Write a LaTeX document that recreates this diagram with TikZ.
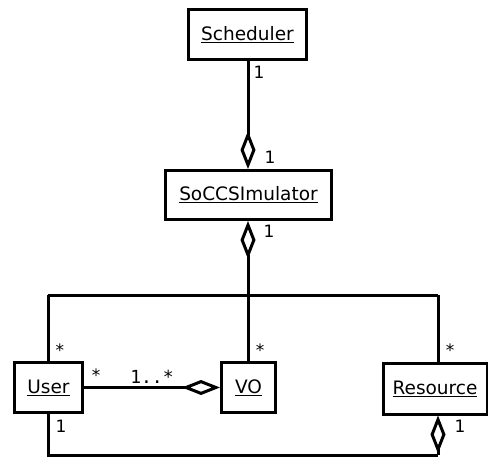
\documentclass[tikz,border=0pt]{standalone}
\usepackage{fontspec}
\setmainfont{DejaVu Sans}
\newfontfamily\monofont{DejaVu Sans Mono}
\usetikzlibrary{arrows.meta}
\begin{document}
\begin{tikzpicture}[x=1pt,y=-1pt,
  classbox/.style={draw,line width=3pt,rectangle,inner sep=0pt,font=\fontsize{18.5}{20}\selectfont},
  assoc/.style={line width=3pt},
  aggr/.style={assoc,-{Diamond[open,length=38pt,width=15pt,line width=3pt]}},
  mult/.style={font=\fontsize{17}{18}\selectfont,inner sep=0pt}]
\useasboundingbox (0,0) rectangle (488,460);
% classes
\node[classbox,minimum width=118pt,minimum height=50pt] (sched) at (247.5,34.5) {\underline{Scheduler}};
\node[classbox,minimum width=166pt,minimum height=49pt] (sim) at (248.5,195) {\underline{SoCCSImulator}};
\node[classbox,minimum width=68pt,minimum height=50pt] (user) at (48.5,387.5) {\underline{User}};
\node[classbox,minimum width=54pt,minimum height=50pt] (vo) at (248.5,387.5) {\underline{VO}};
\node[classbox,minimum width=104pt,minimum height=51pt] (res) at (435,388.5) {\underline{Resource}};
% junction points
\coordinate (j) at (248,295);
\coordinate (jl) at (48,295);
\coordinate (jr) at (438,295);
\coordinate (bl) at (48,455);
\coordinate (br) at (438,455);
% associations
\draw[aggr] (sched.south -| 248,0) -- (sim.north -| 248,0);
\draw[aggr] (j) -- (sim.south -| j);
\draw[assoc] (jl) -- (jr);
\draw[assoc] (jl) -- (user.north -| jl);
\draw[assoc] (jr) -- (res.north -| jr);
\draw[assoc] (j) -- (vo.north -| j);
\draw[aggr] (user.east) -- (vo.west);
\draw[assoc] (user.south -| bl) -- (bl) -- (br);
\draw[aggr] (br) -- (res.south -| br);
% multiplicities
\node[mult] at (259,72) {1};
\node[mult] at (270,157) {1};
\node[mult] at (269,231) {1};
\node[mult] at (60,350) {*};
\node[mult] at (260,350) {*};
\node[mult] at (450,350) {*};
\node[mult] at (96,375) {*};
\node[mult,font=\fontsize{18}{18}\monofont] at (152,377) {1..*};
\node[mult] at (61,426) {1};
\node[mult] at (460,426) {1};
\end{tikzpicture}
\end{document}
